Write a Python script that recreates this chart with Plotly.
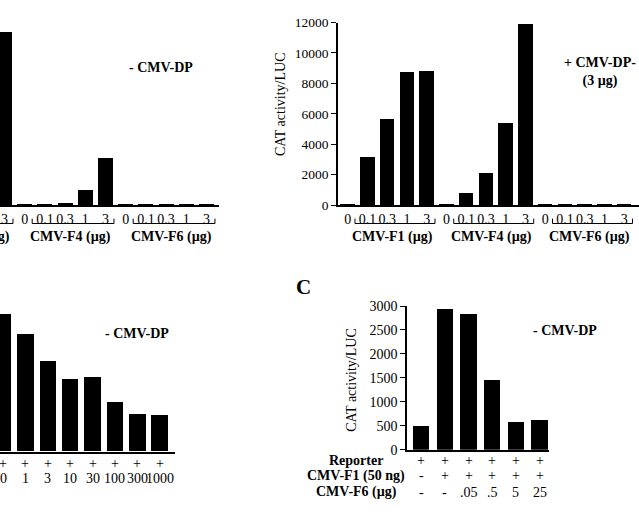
import plotly.graph_objects as go

W, H = 639, 515
SERIF = "Liberation Serif, Times New Roman, serif"

# ---------------- data ----------------
dose_labels = ["0", "0.1", "0.3", "1", "3"] * 3
group_names = ["CMV-F1 (µg)", "CMV-F4 (µg)", "CMV-F6 (µg)"]

# Panel A, left (- CMV-DP): F1 doses 0-1 are cropped out of the picture
a_left_vals = [None, None, None, None, 2860,
               15, 15, 37, 260, 777,
               15, 12, 12, 12, 12]
# Panel A, right (+ CMV-DP, 3 µg)
a_right_vals = [60, 3200, 5700, 8800, 8850,
                80, 800, 2150, 5400, 11950,
                90, 50, 50, 40, 50]
a_ticks = [0, 2000, 4000, 6000, 8000, 10000, 12000]

# Panel B (- CMV-DP)
b_plus = ["+"] * 8
b_dose = ["0", "1", "3", "10", "30", "100", "300", "1000"]
b_vals = [1410, 1210, 930, 750, 770, 510, 380, 370]

# Panel C (- CMV-DP)
c_row_names = ["Reporter", "CMV-F1 (50 ng)", "CMV-F6 (µg)"]
c_reporter = ["+", "+", "+", "+", "+", "+"]
c_f1 = ["-", "+", "+", "+", "+", "+"]
c_f6 = ["-", "-", ".05", ".5", "5", "25"]
c_vals = [490, 2940, 2840, 1460, 570, 620]
c_ticks = [0, 500, 1000, 1500, 2000, 2500, 3000]


def px(x):
    return x / W


def py(y):
    return 1 - y / H


# axis geometry (pixel-derived domains)
dom = {
    "x1": [px(0), px(219)], "y1": [py(204), py(16)],
    "x2": [px(338), 1.0], "y2": [py(204), py(16)],
    "x3": [px(0), px(175)], "y3": [py(458), py(298)],
    "x4": [px(407), px(549)], "y4": [py(456), py(308)],
}
rng = {
    "x1": [3.777, 14.62], "y1": [0, 3000],
    "x2": [-0.49, 14.75], "y2": [0, 12000],
    "x3": [-0.134, 7.68], "y3": [0, 1600],
    "x4": [-0.6, 5.4], "y4": [0, 3000],
}


def xp(ax, v):
    d, r = dom[ax], rng[ax]
    return d[0] + (v - r[0]) / (r[1] - r[0]) * (d[1] - d[0])


fig = go.Figure()
idx15 = list(range(15))
fig.add_bar(x=idx15, y=a_left_vals, width=0.74, marker_color="black",
            marker_line_width=0, xaxis="x", yaxis="y")
fig.add_bar(x=idx15, y=a_right_vals, width=0.74, marker_color="black",
            marker_line_width=0, xaxis="x2", yaxis="y2")
fig.add_bar(x=list(range(8)), y=b_vals, width=0.74, marker_color="black",
            marker_line_width=0, xaxis="x3", yaxis="y3")
fig.add_bar(x=list(range(6)), y=c_vals, width=0.69, marker_color="black",
            marker_line_width=0, xaxis="x4", yaxis="y4")

xtickfont = dict(family=SERIF, size=14, color="black")
ytickfont = dict(family=SERIF, size=13.5, color="black")
xcommon = dict(showline=True, linecolor="black", linewidth=1.5, ticks="",
               showgrid=False, zeroline=False, tickmode="array", tickangle=0,
               ticklabeloverflow="allow", fixedrange=True)
ycommon = dict(showline=True, linecolor="black", linewidth=1.5,
               ticks="outside", ticklen=5, tickwidth=1.2, tickcolor="black",
               tickformat="d", showgrid=False, zeroline=False, fixedrange=True)

fig.update_layout(
    width=W, height=H, margin=dict(l=0, r=0, t=0, b=0),
    paper_bgcolor="white", plot_bgcolor="white", showlegend=False,
    bargap=0,
    xaxis=dict(domain=dom["x1"], range=rng["x1"], anchor="y",
               tickvals=idx15, ticktext=dose_labels, tickfont=xtickfont, **xcommon),
    yaxis=dict(domain=dom["y1"], range=rng["y1"], anchor="x", visible=False),
    xaxis2=dict(domain=dom["x2"], range=rng["x2"], anchor="y2",
                tickvals=idx15, ticktext=dose_labels, tickfont=xtickfont, **xcommon),
    yaxis2=dict(domain=dom["y2"], range=rng["y2"], anchor="x2",
                tickvals=a_ticks, tickfont=ytickfont, **ycommon),
    xaxis3=dict(domain=dom["x3"], range=rng["x3"], anchor="y3",
                showticklabels=False, **xcommon),
    yaxis3=dict(domain=dom["y3"], range=rng["y3"], anchor="x3", visible=False),
    xaxis4=dict(domain=dom["x4"], range=rng["x4"], anchor="y4",
                showticklabels=False, **xcommon),
    yaxis4=dict(domain=dom["y4"], range=rng["y4"], anchor="x4",
                tickvals=c_ticks, tickfont=dict(family=SERIF, size=14, color="black"),
                **ycommon),
)

bold = dict(family=SERIF, size=14, color="black")
plain = dict(family=SERIF, size=14, color="black")
ann = []
shapes = []


def label(x, y, text, font=bold, xref="paper", angle=0, b=True):
    ann.append(dict(x=x, y=y, xref=xref, yref="paper",
                    text=f"<b>{text}</b>" if b else text,
                    showarrow=False, font=font, xanchor="center",
                    yanchor="middle", textangle=angle))


# group brackets and names for panel A
for ax in ("x1", "x2"):
    for g, name in enumerate(group_names):
        first, last = g * 5 + 1, g * 5 + 4
        x0, x1 = xp(ax, first - 0.63), xp(ax, last + 0.42)
        yb, yt = py(223), py(218)
        shapes.append(dict(type="path", xref="paper", yref="paper",
                           path=f"M {x0},{yt} L {x0},{yb} L {x1},{yb} L {x1},{yt}",
                           line=dict(color="black", width=1)))
        label((x0 + x1) / 2 - 0.004, py(237), name)

# condition labels
label(px(161), py(62), "- CMV-DP")
label(px(600), py(66.5), "+ CMV-DP-<br>(3 µg)")
label(px(137), py(336), "- CMV-DP")
label(px(565), py(333), "- CMV-DP")
label(px(303), py(288), "C", font=dict(family=SERIF, size=21, color="black"))

# y axis titles
label(px(280), py(100), "CAT activity/LUC", font=plain, angle=-90, b=False)
label(px(352), py(384), "CAT activity/LUC", font=plain, angle=-90, b=False)

# panel B table rows
for i, (p, d) in enumerate(zip(b_plus, b_dose)):
    label(i, py(470), p, font=plain, xref="x3", b=False)
    label(i, py(486), d, font=plain, xref="x3", b=False)

# panel C table rows
c_rows = [c_reporter, c_f1, c_f6]
row_y = [467, 483, 500]
for name, row, y in zip(c_row_names, c_rows, row_y):
    label(px(356), py(y), name)
    for i, t in enumerate(row):
        label(i, py(y), t, font=plain, xref="x4", b=False)

fig.update_layout(annotations=ann, shapes=shapes)
fig.write_html("out.html", config={"displayModeBar": False},
               post_script="document.body.style.margin='0';")
